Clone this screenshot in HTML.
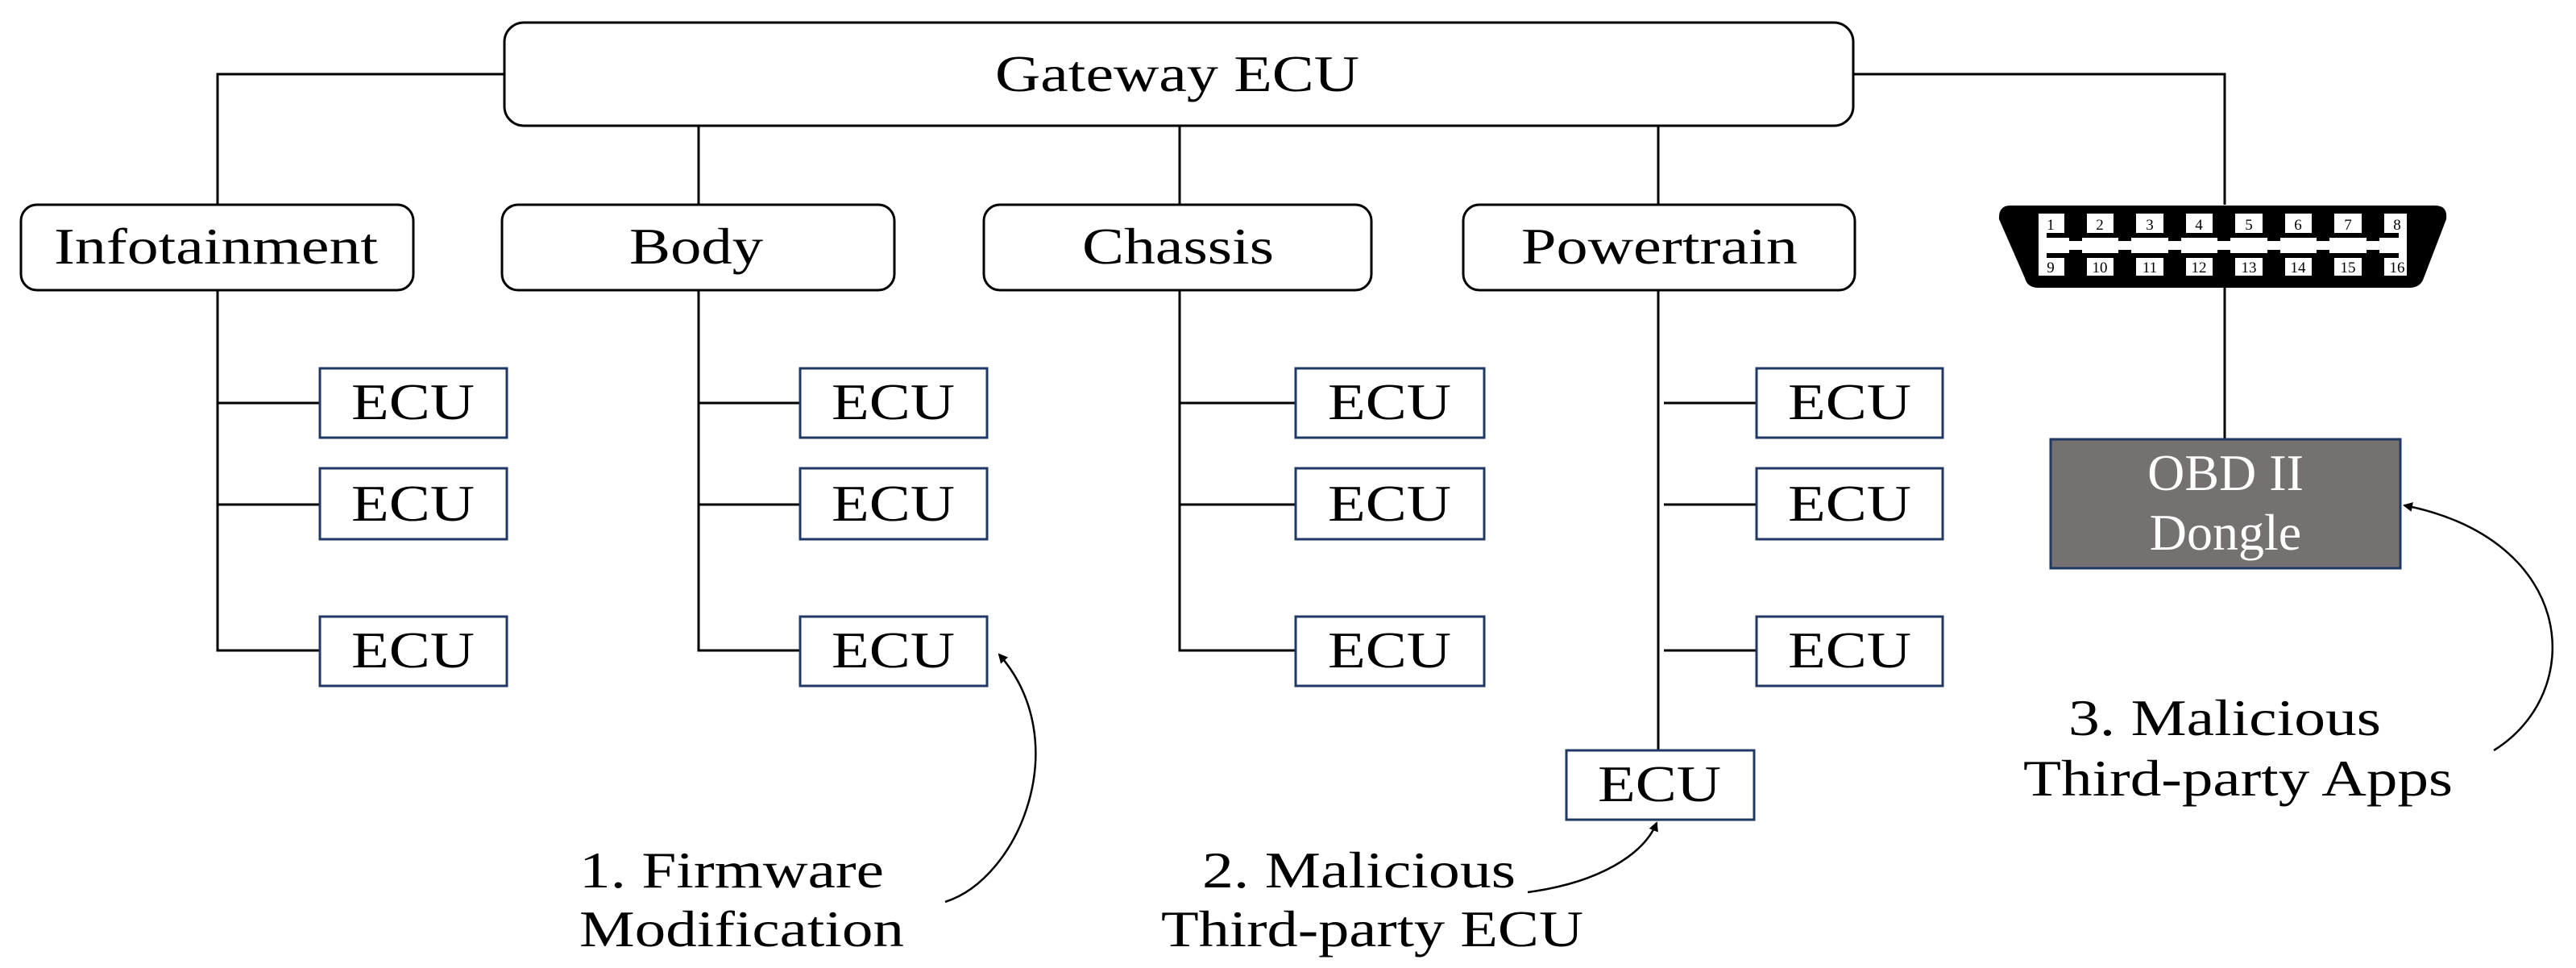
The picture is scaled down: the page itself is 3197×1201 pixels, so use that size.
<!DOCTYPE html>
<html><head><meta charset="utf-8"><style>
html,body{margin:0;padding:0;background:#fff;}
svg{display:block;}
text{font-family:"Liberation Serif",serif;}
</style></head><body>
<svg width="3197" height="1201" viewBox="0 0 3197 1201" xmlns="http://www.w3.org/2000/svg">
<defs>
<marker id="ah" markerWidth="12" markerHeight="12" refX="10" refY="6" orient="auto" markerUnits="userSpaceOnUse">
<path d="M0,0 L12,6 L0,12 z" fill="#000"/>
</marker>
</defs>
<g stroke="#000" stroke-width="3" fill="none">
<polyline points="626,92 270,92 270,254"/>
<polyline points="2300,92 2761,92 2761,254"/>
<line x1="867" y1="156" x2="867" y2="254"/>
<line x1="1464" y1="156" x2="1464" y2="254"/>
<line x1="2058" y1="156" x2="2058" y2="254"/>
<polyline points="270,360 270,807 397,807"/>
<line x1="270" y1="500" x2="397" y2="500"/>
<line x1="270" y1="626" x2="397" y2="626"/>
<polyline points="867,360 867,807 993,807"/>
<line x1="867" y1="500" x2="993" y2="500"/>
<line x1="867" y1="626" x2="993" y2="626"/>
<polyline points="1464,360 1464,807 1608,807"/>
<line x1="1464" y1="500" x2="1608" y2="500"/>
<line x1="1464" y1="626" x2="1608" y2="626"/>
<line x1="2058" y1="360" x2="2058" y2="931"/>
<line x1="2065" y1="500" x2="2180" y2="500"/>
<line x1="2065" y1="626" x2="2180" y2="626"/>
<line x1="2065" y1="807" x2="2180" y2="807"/>
<line x1="2761" y1="356" x2="2761" y2="545"/>
<rect x="626" y="28" width="1674" height="128" rx="24"/>
<rect x="26" y="254" width="487" height="106" rx="20"/>
<rect x="623" y="254" width="487" height="106" rx="20"/>
<rect x="1221" y="254" width="481" height="106" rx="20"/>
<rect x="1816" y="254" width="486" height="106" rx="20"/>
</g>
<g stroke="#1f3864" stroke-width="3" fill="#fff">
<rect x="397" y="457" width="232" height="86"/>
<rect x="397" y="581" width="232" height="88"/>
<rect x="397" y="765" width="232" height="86"/>
<rect x="993" y="457" width="232" height="86"/>
<rect x="993" y="581" width="232" height="88"/>
<rect x="993" y="765" width="232" height="86"/>
<rect x="1608" y="457" width="234" height="86"/>
<rect x="1608" y="581" width="234" height="88"/>
<rect x="1608" y="765" width="234" height="86"/>
<rect x="2180" y="457" width="231" height="86"/>
<rect x="2180" y="581" width="231" height="88"/>
<rect x="2180" y="765" width="231" height="86"/>
<rect x="1944" y="931" width="233" height="86"/>
<rect x="2545" y="545" width="434" height="160" fill="#767171"/>
</g>
<!-- OBD connector -->
<path d="M2495,255 L3022,255 Q3038,255 3036,272 L3008,345 Q3004,357 2990,357 L2530,357 Q2516,357 2513,345 L2481,272 Q2480,255 2495,255 z" fill="#000"/>
<rect x="2526" y="265" width="465" height="77" fill="#fff"/>
<g fill="#000">
<rect x="2562" y="265" width="28" height="27"/><rect x="2623" y="265" width="28" height="27"/><rect x="2685" y="265" width="28" height="27"/><rect x="2746" y="265" width="28" height="27"/><rect x="2808" y="265" width="28" height="27"/><rect x="2869" y="265" width="28" height="27"/><rect x="2931" y="265" width="28" height="27"/>
<rect x="2562" y="318" width="28" height="24"/><rect x="2623" y="318" width="28" height="24"/><rect x="2685" y="318" width="28" height="24"/><rect x="2746" y="318" width="28" height="24"/><rect x="2808" y="318" width="28" height="24"/><rect x="2869" y="318" width="28" height="24"/><rect x="2931" y="318" width="28" height="24"/>
<rect x="2526" y="265" width="4" height="77"/><rect x="2987" y="265" width="4" height="77"/>
<rect x="2540" y="289" width="437" height="6"/><rect x="2540" y="314" width="437" height="6"/>
<rect x="2568" y="289" width="16" height="10"/><rect x="2629" y="289" width="16" height="10"/><rect x="2691" y="289" width="16" height="10"/><rect x="2752" y="289" width="16" height="10"/><rect x="2814" y="289" width="16" height="10"/><rect x="2875" y="289" width="16" height="10"/><rect x="2937" y="289" width="16" height="10"/>
<rect x="2568" y="310" width="16" height="10"/><rect x="2629" y="310" width="16" height="10"/><rect x="2691" y="310" width="16" height="10"/><rect x="2752" y="310" width="16" height="10"/><rect x="2814" y="310" width="16" height="10"/><rect x="2875" y="310" width="16" height="10"/><rect x="2937" y="310" width="16" height="10"/>
</g>
<g font-family="Liberation Sans, sans-serif" font-size="19" fill="#000" text-anchor="middle">
<text x="2545" y="285">1</text><text x="2606" y="285">2</text><text x="2668" y="285">3</text><text x="2729" y="285">4</text><text x="2791" y="285">5</text><text x="2852" y="285">6</text><text x="2914" y="285">7</text><text x="2975" y="285">8</text>
<text x="2545" y="338">9</text><text x="2606" y="338">10</text><text x="2668" y="338">11</text><text x="2729" y="338">12</text><text x="2791" y="338">13</text><text x="2852" y="338">14</text><text x="2914" y="338">15</text><text x="2975" y="338">16</text>
</g>
<g font-size="64" fill="#000">
<text x="1235" y="113" textLength="452" lengthAdjust="spacingAndGlyphs">Gateway ECU</text>
<text x="67" y="327" textLength="402" lengthAdjust="spacingAndGlyphs">Infotainment</text>
<text x="781" y="327" textLength="166" lengthAdjust="spacingAndGlyphs">Body</text>
<text x="1343" y="327" textLength="238" lengthAdjust="spacingAndGlyphs">Chassis</text>
<text x="1888" y="327" textLength="343" lengthAdjust="spacingAndGlyphs">Powertrain</text>
</g>
<g font-size="64" fill="#000">
<text x="436" y="520" textLength="153" lengthAdjust="spacingAndGlyphs">ECU</text>
<text x="436" y="646" textLength="153" lengthAdjust="spacingAndGlyphs">ECU</text>
<text x="436" y="828" textLength="153" lengthAdjust="spacingAndGlyphs">ECU</text>
<text x="1032" y="520" textLength="153" lengthAdjust="spacingAndGlyphs">ECU</text>
<text x="1032" y="646" textLength="153" lengthAdjust="spacingAndGlyphs">ECU</text>
<text x="1032" y="828" textLength="153" lengthAdjust="spacingAndGlyphs">ECU</text>
<text x="1648" y="520" textLength="153" lengthAdjust="spacingAndGlyphs">ECU</text>
<text x="1648" y="646" textLength="153" lengthAdjust="spacingAndGlyphs">ECU</text>
<text x="1648" y="828" textLength="153" lengthAdjust="spacingAndGlyphs">ECU</text>
<text x="2219" y="520" textLength="153" lengthAdjust="spacingAndGlyphs">ECU</text>
<text x="2219" y="646" textLength="153" lengthAdjust="spacingAndGlyphs">ECU</text>
<text x="2219" y="828" textLength="153" lengthAdjust="spacingAndGlyphs">ECU</text>
<text x="1983" y="994" textLength="153" lengthAdjust="spacingAndGlyphs">ECU</text>
</g>
<g font-size="64" fill="#fff" text-anchor="middle">
<text x="2762" y="608">OBD II</text>
<text x="2762" y="682">Dongle</text>
</g>
<g font-size="64" fill="#000">
<text x="719" y="1101" textLength="378" lengthAdjust="spacingAndGlyphs">1. Firmware</text>
<text x="719" y="1174" textLength="403" lengthAdjust="spacingAndGlyphs">Modification</text>
<text x="1492" y="1101" textLength="389" lengthAdjust="spacingAndGlyphs">2. Malicious</text>
<text x="1441" y="1174" textLength="524" lengthAdjust="spacingAndGlyphs">Third-party ECU</text>
<text x="2567" y="912" textLength="388" lengthAdjust="spacingAndGlyphs">3. Malicious</text>
<text x="2511" y="987" textLength="533" lengthAdjust="spacingAndGlyphs">Third-party Apps</text>
</g>
<g stroke="#000" stroke-width="2.5" fill="none">
<path d="M1173,1119 C1265,1090 1335,920 1240,812" marker-end="url(#ah)"/>
<path d="M1896,1107 C1985,1095 2040,1060 2056,1021" marker-end="url(#ah)"/>
<path d="M3095,931 C3210,860 3200,670 2984,627" marker-end="url(#ah)"/>
</g>
</svg>
</body></html>
